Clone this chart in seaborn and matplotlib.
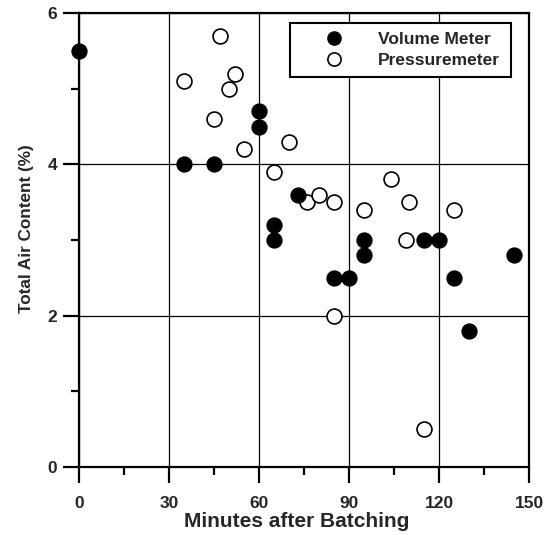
import matplotlib
matplotlib.use("Agg")
import matplotlib.pyplot as plt
from matplotlib.ticker import MultipleLocator
from matplotlib.lines import Line2D
import seaborn as sns
import pandas as pd

sns.set_theme(style="white")
plt.rcParams['font.family'] = ['Liberation Sans', 'DejaVu Sans']

# Volume Meter (filled)
vol_minutes = [0, 35, 45, 60, 60, 65, 65, 73, 85, 90, 95, 95, 115, 120, 125, 130, 145]
vol_air = [5.5, 4.0, 4.0, 4.7, 4.5, 3.2, 3.0, 3.6, 2.5, 2.5, 3.0, 2.8, 3.0, 3.0, 2.5, 1.8, 2.8]

# Pressuremeter (open)
pres_minutes = [35, 45, 47, 50, 52, 55, 65, 70, 76, 80, 85, 85, 95, 104, 109, 110, 115, 125]
pres_air = [5.1, 4.6, 5.7, 5.0, 5.2, 4.2, 3.9, 4.3, 3.5, 3.6, 3.5, 2.0, 3.4, 3.8, 3.0, 3.5, 0.5, 3.4]

x_ticks = [0, 30, 60, 90, 120, 150]
y_ticks = [0, 2, 4, 6]

vol_df = pd.DataFrame({"Minutes": vol_minutes, "Air": vol_air})
pres_df = pd.DataFrame({"Minutes": pres_minutes, "Air": pres_air})

fig = plt.figure(figsize=(5.45, 5.35), dpi=100)
ax = fig.add_axes([0.1455, 0.127, 0.8255, 0.8487])

ms = 115
sns.scatterplot(data=pres_df, x="Minutes", y="Air", ax=ax, s=ms, marker="o",
                facecolor="white", edgecolor="black", linewidth=1.2, clip_on=False, zorder=3)
sns.scatterplot(data=vol_df, x="Minutes", y="Air", ax=ax, s=ms, marker="o",
                color="black", edgecolor="black", linewidth=1.0, clip_on=False, zorder=4)

ax.set_xlim(0, 150)
ax.set_ylim(0, 6)
ax.set_xticks(x_ticks)
ax.set_yticks(y_ticks)
ax.xaxis.set_minor_locator(MultipleLocator(15))
ax.yaxis.set_minor_locator(MultipleLocator(1))
ax.set_xticklabels([str(t) for t in x_ticks], fontweight="bold", fontsize=12.5)
ax.set_yticklabels([str(t) for t in y_ticks], fontweight="bold", fontsize=12.5)

ax.tick_params(axis="both", which="major", direction="out", length=11.5, width=1.6,
               color="black", bottom=True, left=True, top=False, right=False)
ax.tick_params(axis="x", which="major", pad=9)
ax.tick_params(axis="y", which="major", pad=4.5)
ax.tick_params(axis="both", which="minor", direction="out", length=5.5, width=1.6,
               color="black", bottom=True, left=True, top=False, right=False)

ax.grid(True, which="major", color="black", linewidth=0.9)
ax.set_axisbelow(True)
for sp in ax.spines.values():
    sp.set_color("black")
    sp.set_linewidth(1.6)
    sp.set_zorder(5)

ax.set_xlabel("Minutes after Batching", fontweight="bold", fontsize=15)
ax.set_ylabel("Total Air Content (%)", fontweight="bold", fontsize=12.3)
ax.xaxis.set_label_coords(0.483, -0.098)
ax.yaxis.set_label_coords(-0.1, 0.526)

handles = [
    Line2D([], [], marker="o", linestyle="none", markersize=9.5, markerfacecolor="black",
           markeredgecolor="black", label="Volume Meter"),
    Line2D([], [], marker="o", linestyle="none", markersize=9.5, markerfacecolor="white",
           markeredgecolor="black", markeredgewidth=1.2, label="Pressuremeter"),
]
leg = ax.legend(handles=handles, loc="upper left", bbox_to_anchor=(0.468, 0.80, 0.491, 0.179),
                mode="expand", prop={"weight": "bold", "size": 12.5}, frameon=True, fancybox=False,
                edgecolor="black", framealpha=1, borderpad=0.55, handletextpad=0.56,
                borderaxespad=0, labelspacing=0.3, handlelength=3.95, markerscale=1.0)
leg.get_frame().set_linewidth(1.5)
leg.set_zorder(10)

fig.savefig("out.png", dpi=100)
